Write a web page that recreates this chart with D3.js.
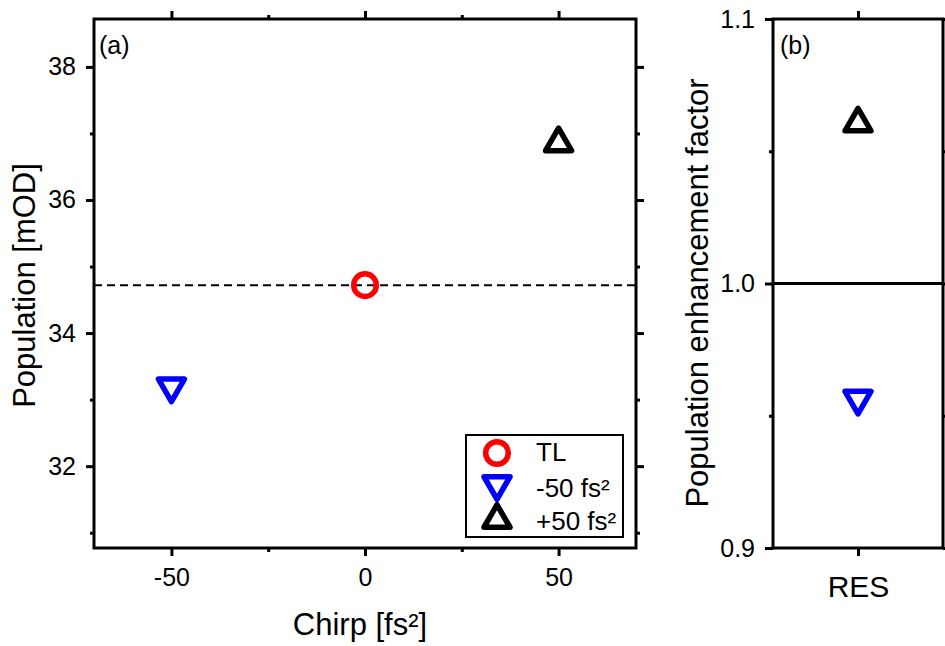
<!DOCTYPE html>
<html><head><meta charset="utf-8">
<script src="https://cdn.jsdelivr.net/npm/d3@7"></script>
<style>
body{margin:0;background:#fff}
text{font-family:"Liberation Sans",Arial,Helvetica,sans-serif;fill:#000}
</style></head><body>
<svg id="c" width="945" height="646"></svg>
<script>
// ---- data ----
const chirpValues = [0, -50, 50];
const populationValues = [34.72, 33.14, 36.91];
const seriesNames = ["TL", "-50 fs²", "+50 fs²"];
const seriesColors = ["#ff0000", "#0000ff", "#000000"];
const seriesShapes = ["circle", "down", "up"];
const referenceLevel = 34.72;
const chirpMajorTicks = [-50, 0, 50];
const chirpMinorTicks = [-25, 25];
const popMajorTicks = [32, 34, 36, 38];
const popMinorTicks = [31, 33, 35, 37];
const resCategory = ["RES"];
const enhancementShapes = ["down", "up"];
const enhancementColors = ["#0000ff", "#000000"];
const enhancementValues = [0.955, 1.062];
const enhancementReference = 1.0;
const enhMajorTicks = [0.9, 1.0, 1.1];
const enhMinorTicks = [0.95, 1.05];

// ---- layout ----
const svg = d3.select("#c");
const A = {l: 94, r: 636, t: 19, b: 548};
const B = {l: 773, r: 943, t: 19, b: 548};

const xA = d3.scaleLinear().domain([-70, 70]).range([A.l, A.r]);
const yA = d3.scaleLinear().domain([30.77, 38.72]).range([A.b, A.t]);
const xB = d3.scalePoint().domain(resCategory).range([B.l, B.r]).padding(0.5);
const yB = d3.scaleLinear().domain([0.9, 1.1]).range([B.b, B.t]);

function marker(g, shape, color) {
  const sw = 5.5;
  if (shape === "circle") {
    g.append("circle").attr("r", 11.3).attr("fill", "none")
      .attr("stroke", color).attr("stroke-width", sw);
  } else {
    const h = 11.25, w = 13;
    const p = shape === "up"
      ? `M0,${-h}L${w},${h}L${-w},${h}Z`
      : `M0,${h}L${w},${-h}L${-w},${-h}Z`;
    g.append("path").attr("d", p).attr("fill", "none")
      .attr("stroke", color).attr("stroke-width", sw)
      .attr("stroke-linejoin", "round");
  }
}

function styleAxis(sel, fs) {
  sel.select(".domain").remove();
  sel.attr("font-size", fs).attr("font-family", '"Liberation Sans",Arial,sans-serif');
  sel.selectAll(".tick line").attr("stroke", "#000").attr("stroke-width", 3);
  sel.selectAll(".tick text").attr("font-size", fs).attr("fill", "#000");
}

function axes(x, y, box, xMaj, xMin, yMaj, yMin, xFmt, yFmt, xFs, xPad) {
  // bottom
  let g = svg.append("g").attr("transform", `translate(0,${box.b})`);
  g.call(d3.axisBottom(x).tickValues(xMaj).tickSize(8).tickPadding(xPad).tickFormat(xFmt).tickSizeOuter(0));
  styleAxis(g, xFs);
  if (xMin) { g = svg.append("g").attr("transform", `translate(0,${box.b})`);
    g.call(d3.axisBottom(x).tickValues(xMin).tickSize(4).tickFormat("").tickSizeOuter(0)); styleAxis(g, 25); }
  // top
  g = svg.append("g").attr("transform", `translate(0,${box.t})`);
  g.call(d3.axisTop(x).tickValues(xMaj).tickSize(8).tickFormat("").tickSizeOuter(0)); styleAxis(g, 25);
  if (xMin) { g = svg.append("g").attr("transform", `translate(0,${box.t})`);
    g.call(d3.axisTop(x).tickValues(xMin).tickSize(4).tickFormat("").tickSizeOuter(0)); styleAxis(g, 25); }
  // left
  g = svg.append("g").attr("transform", `translate(${box.l},0)`);
  g.call(d3.axisLeft(y).tickValues(yMaj).tickSize(8).tickPadding(10).tickFormat(yFmt).tickSizeOuter(0));
  styleAxis(g, 25);
  g = svg.append("g").attr("transform", `translate(${box.l},0)`);
  g.call(d3.axisLeft(y).tickValues(yMin).tickSize(4).tickFormat("").tickSizeOuter(0)); styleAxis(g, 25);
  // right
  g = svg.append("g").attr("transform", `translate(${box.r},0)`);
  g.call(d3.axisRight(y).tickValues(yMaj).tickSize(8).tickFormat("").tickSizeOuter(0)); styleAxis(g, 25);
  g = svg.append("g").attr("transform", `translate(${box.r},0)`);
  g.call(d3.axisRight(y).tickValues(yMin).tickSize(4).tickFormat("").tickSizeOuter(0)); styleAxis(g, 25);
  // frame
  svg.append("rect").attr("x", box.l).attr("y", box.t)
    .attr("width", box.r - box.l).attr("height", box.b - box.t)
    .attr("fill", "none").attr("stroke", "#000").attr("stroke-width", 3);
}

// ---- panel (a) ----
svg.append("line").attr("x1", A.l).attr("x2", A.r)
  .attr("y1", yA(referenceLevel)).attr("y2", yA(referenceLevel))
  .attr("stroke", "#000").attr("stroke-width", 2).attr("stroke-dasharray", "8,5");
axes(xA, yA, A, chirpMajorTicks, chirpMinorTicks, popMajorTicks, popMinorTicks,
  d => String(d), d => String(d), 25, 12);
chirpValues.forEach((c, i) => {
  const g = svg.append("g").attr("transform", `translate(${xA(c)},${yA(populationValues[i])})`);
  marker(g, seriesShapes[i], seriesColors[i]);
});
svg.append("text").attr("x", 99).attr("y", 54).attr("font-size", 25).text("(a)");
svg.append("text").attr("x", (A.l + A.r) / 2 - 5).attr("y", 635).attr("text-anchor", "middle")
  .attr("font-size", 31).text("Chirp [fs²]");
svg.append("text").attr("transform", `translate(35,${(A.t + A.b) / 2 + 2}) rotate(-90)`)
  .attr("text-anchor", "middle").attr("font-size", 31).text("Population [mOD]");

// legend
const leg = svg.append("g");
leg.append("rect").attr("x", 466).attr("y", 435).attr("width", 157).attr("height", 102)
  .attr("fill", "#fff").attr("stroke", "#000").attr("stroke-width", 2);
const legSymY = [453, 488, 516], legTxtY = [461, 497, 530];
seriesNames.forEach((n, i) => {
  const g = leg.append("g").attr("transform", `translate(497,${legSymY[i]})`);
  marker(g, seriesShapes[i], seriesColors[i]);
  leg.append("text").attr("x", 536).attr("y", legTxtY[i]).attr("font-size", 26).text(n);
});

// ---- panel (b) ----
svg.append("line").attr("x1", B.l).attr("x2", B.r)
  .attr("y1", yB(enhancementReference)).attr("y2", yB(enhancementReference))
  .attr("stroke", "#000").attr("stroke-width", 3);
axes(xB, yB, B, resCategory, null, enhMajorTicks, enhMinorTicks,
  d => d, d3.format(".1f"), 30, 20);
enhancementValues.forEach((v, i) => {
  const g = svg.append("g").attr("transform", `translate(${xB("RES")},${yB(v)})`);
  marker(g, enhancementShapes[i], enhancementColors[i]);
});
svg.append("text").attr("x", 780).attr("y", 54).attr("font-size", 25).text("(b)");
svg.append("text").attr("transform", `translate(708,293) rotate(-90)`)
  .attr("text-anchor", "middle").attr("font-size", 31).text("Population enhancement factor");
</script>
</body></html>
